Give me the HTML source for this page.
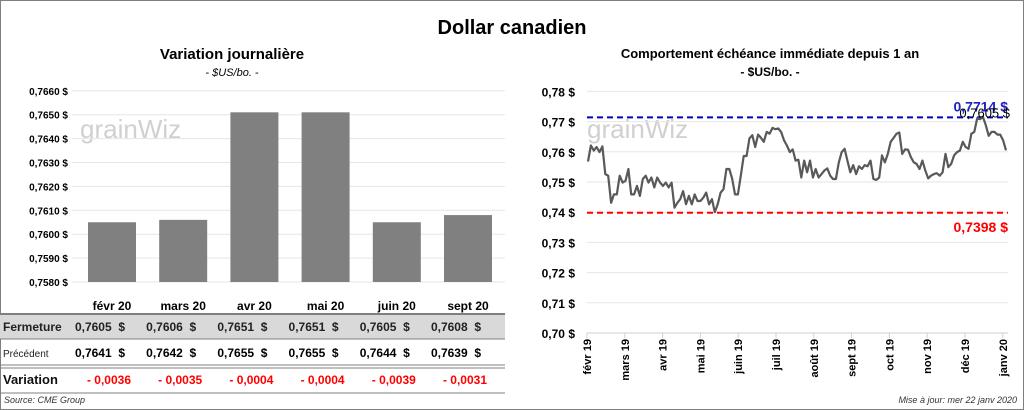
<!DOCTYPE html>
<html><head><meta charset="utf-8">
<style>
body{margin:0;background:#fff;font-family:"Liberation Sans",sans-serif;}
#wrap{position:relative;width:1024px;height:410px;overflow:hidden;}
svg text{font-family:"Liberation Sans",sans-serif;}
</style></head>
<body>
<div id="wrap">
<svg id="svg" width="1024" height="410">
<rect x="0.5" y="0.5" width="1023" height="409" fill="#fff" stroke="#7f7f7f"/>
<text x="512" y="34" text-anchor="middle" font-size="20" font-weight="bold">Dollar canadien</text>
<text x="232" y="59" text-anchor="middle" font-size="15" font-weight="bold">Variation  journalière</text>
<text x="232" y="76" text-anchor="middle" font-size="11" font-style="italic">- $US/bo. -</text>
<text x="770" y="58" text-anchor="middle" font-size="13" font-weight="bold">Comportement échéance immédiate depuis 1 an</text>
<text x="770" y="76" text-anchor="middle" font-size="12" font-weight="bold">- $US/bo. -</text>
<text x="80" y="138" font-size="26" fill="#d0d0d0">grainWiz</text>
<text x="587" y="138" font-size="26" fill="#d0d0d0">grainWiz</text>
<g id="left"></g>
<g id="table"></g>
<g id="right"></g>
<text x="4" y="403" font-size="9" font-style="italic" fill="#333">Source: CME Group</text>
<text x="1017" y="403" text-anchor="end" font-size="9" font-style="italic" fill="#333">Mise à jour: mer 22 janv 2020</text>
</svg>
</div>
<script>
const months=["févr 20","mars 20","avr 20","mai 20","juin 20","sept 20"];
const closeVals=[0.7605,0.7606,0.7651,0.7651,0.7605,0.7608];
const prevVals=[0.7641,0.7642,0.7655,0.7655,0.7644,0.7639];
const varVals=["- 0,0036","- 0,0035","- 0,0004","- 0,0004","- 0,0039","- 0,0031"];
const leftTicks=[0.7580,0.7590,0.7600,0.7610,0.7620,0.7630,0.7640,0.7650,0.7660];
const lineCats=["févr 19","mars 19","avr 19","mai 19","juin 19","juil 19","août 19","sept 19","oct 19","nov 19","déc 19","janv 20"];
const lineTicks=[0.70,0.71,0.72,0.73,0.74,0.75,0.76,0.77,0.78];
const lineVals=[.7568,.7621,.7604,.7616,.7599,.7618,.7526,.7521,.7431,.7459,.7459,.7521,.7498,.7504,.7543,.7459,.7459,.7487,.7454,.7510,.7521,.7498,.7515,.7482,.7515,.7498,.7487,.7498,.7482,.7498,.7415,.7431,.7443,.7470,.7426,.7454,.7426,.7459,.7437,.7437,.7448,.7465,.7426,.7443,.7400,.7426,.7465,.7476,.7543,.7543,.7512,.7459,.7459,.7521,.7586,.7586,.7644,.7655,.7616,.7657,.7646,.7633,.7666,.7660,.7679,.7675,.7677,.7666,.7638,.7621,.7599,.7608,.7571,.7574,.7515,.7571,.7532,.7571,.7515,.7543,.7515,.7526,.7538,.7545,.7521,.7510,.7510,.7565,.7599,.7610,.7571,.7532,.7556,.7526,.7552,.7543,.7556,.7552,.7571,.7510,.7507,.7515,.7588,.7565,.7593,.7633,.7646,.7660,.7664,.7593,.7608,.7607,.7582,.7565,.7560,.7543,.7571,.7538,.7512,.7521,.7526,.7529,.7521,.7532,.7593,.7549,.7560,.7588,.7599,.7604,.7633,.7616,.7610,.7660,.7666,.7711,.7708,.7716,.7688,.7653,.7666,.7666,.7657,.7657,.7638,.7605];
const highVal=0.7714, lowVal=0.7398, lastVal=0.7605;

const NS="http://www.w3.org/2000/svg";
function mk(tag,attrs,parent,txt){const e=document.createElementNS(NS,tag);for(const k in attrs)e.setAttribute(k,attrs[k]);if(txt!==undefined)e.textContent=txt;parent.appendChild(e);return e;}
const fmt=(v,d)=>v.toFixed(d).replace('.',',');

// left bar chart
const L=document.getElementById('left');
const ly=v=>282-(v-0.7580)/0.0010*23.9;
const lx=i=>112+i*71.2;
leftTicks.forEach(t=>{
  const g=mk('line',{x1:72,x2:505,y1:ly(t),y2:ly(t),stroke:'#e6e6e6','stroke-width':1},L);
  
  
  const tx=mk('text',{x:68,y:ly(t)+4,'text-anchor':'end','font-size':10,'font-weight':'bold'},L,fmt(t,4)+' $');
  
  
});
closeVals.forEach((v,i)=>{
  const r=mk('rect',{x:lx(i)-24,y:ly(v),width:48,height:282-ly(v),fill:'#808080'},L);
  
  
});

// table
const T=document.getElementById('table');
mk('rect',{x:0,y:314,width:505,height:25,fill:'#d9d9d9'},T);
[[314,'#7f7f7f',2],[339,'#7f7f7f',1],[365,'#7f7f7f',1],[368,'#7f7f7f',1],[393,'#7f7f7f',1]].forEach(a=>{mk('line',{x1:0,x2:505,y1:a[0],y2:a[0],stroke:a[1],'stroke-width':a[2]},T);});
const h1=mk('text',{x:3,y:331,'font-size':12,'font-weight':'bold',fill:'#222'},T,'Fermeture');

const h2=mk('text',{x:3,y:357,'font-size':10,fill:'#222'},T,'Précédent');

const h3=mk('text',{x:3,y:384,'font-size':13,'font-weight':'bold',fill:'#111'},T,'Variation');

months.forEach((m,i)=>{
  const c=lx(i)-5;
  const a=mk('text',{x:lx(i),y:310,'text-anchor':'middle','font-size':12,'font-weight':'bold'},T,m);
  
  const b=mk('text',{x:c+18,y:331,'text-anchor':'end','font-size':12,'font-weight':'bold',fill:'#222'},T,fmt(closeVals[i],4)+'  $');
  
  b.setAttribute('xml:space','preserve');b.style.whiteSpace='pre';
  const d=mk('text',{x:c+18,y:357,'text-anchor':'end','font-size':12,'font-weight':'bold'},T,fmt(prevVals[i],4)+'  $');
  
  d.style.whiteSpace='pre';
  const e=mk('text',{x:lx(i)-3,y:384,'text-anchor':'middle','font-size':12,'font-weight':'bold',fill:'#ff0000'},T,varVals[i]);
  
});

// right line chart
const R=document.getElementById('right');
const ry=v=>333-(v-0.70)/0.01*30.2;
const x0=587,x1=1008;
const cx=i=>x0+i*37.8;
lineTicks.forEach(t=>{
  const g=mk('line',{x1:x0,x2:x1,y1:ry(t),y2:ry(t),stroke:t===0.70?'#d0d0d0':'#e6e6e6','stroke-width':1},R);
  
  
  const tx=mk('text',{x:575,y:ry(t)+5,'text-anchor':'end','font-size':12,'font-weight':'bold'},R,fmt(t,2)+' $');
  
  
});
lineCats.forEach((c,i)=>{
  const x=cx(i);
  mk('line',{x1:x,x2:x,y1:333,y2:338,stroke:'#d0d0d0'},R);
  const tx=mk('text',{x:0,y:0,'text-anchor':'end','font-size':11,'font-weight':'bold',transform:`translate(${x+4},339) rotate(-90)`},R,c);
  
  
});
const hl=mk('line',{x1:x0,x2:x1,y1:ry(highVal),y2:ry(highVal),stroke:'#0000c0','stroke-width':2,'stroke-dasharray':'6,4'},R);

const ll=mk('line',{x1:x0,x2:x1,y1:ry(lowVal),y2:ry(lowVal),stroke:'#ff0000','stroke-width':2,'stroke-dasharray':'6,4'},R);

const n=lineVals.length;
const px=i=>x0+1+i*(x1-x0-3)/(n-1);
const pts=lineVals.map((v,i)=>px(i).toFixed(1)+','+ry(v).toFixed(1)).join(' ');
const pl=mk('polyline',{points:pts,fill:'none',stroke:'#595959','stroke-width':2.2,'stroke-linejoin':'round'},R);

const t1=mk('text',{x:1008,y:ry(highVal)-6,'text-anchor':'end','font-size':14,'font-weight':'bold',fill:'#2020c0'},R,fmt(highVal,4)+' $');

const t2=mk('text',{x:1010,y:ry(highVal)+0,'text-anchor':'end','font-size':13,fill:'#000'},R,fmt(lastVal,4)+' $');

const t3=mk('text',{x:1008,y:ry(lowVal)+19,'text-anchor':'end','font-size':14,'font-weight':'bold',fill:'#ff0000'},R,fmt(lowVal,4)+' $');

</script>
</body></html>
